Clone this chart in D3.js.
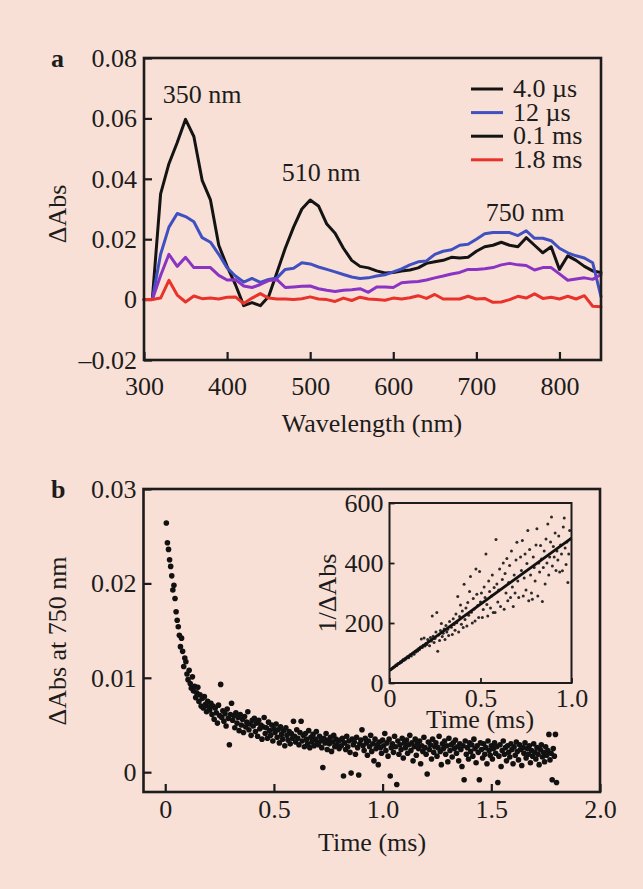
<!DOCTYPE html>
<html>
<head>
<meta charset="utf-8">
<script src="https://cdn.jsdelivr.net/npm/d3@7"></script>
<style>
  html, body { margin: 0; padding: 0; background: #f9e0d6; }
  svg { display: block; }
  text { font-family: "Liberation Serif", "Times New Roman", serif; fill: #1c1c1c; }
</style>
</head>
<body>
<svg id="chart" width="643" height="889"></svg>
<script>
// ---------- Panel a: transient absorption spectra ----------
const wavelengths = [300, 310, 320, 330, 340, 350, 360, 370, 380, 390,
  400, 410, 420, 430, 440, 450, 460, 470, 480, 490,
  500, 510, 520, 530, 540, 550, 560, 570, 580, 590,
  600, 610, 620, 630, 640, 650, 660, 670, 680, 690,
  700, 710, 720, 730, 740, 750, 760, 770, 780, 790,
  800, 810, 820, 830, 840, 850];

const spec4us = [0, 0, 0.035, 0.045, 0.052, 0.0597, 0.054, 0.0395, 0.033, 0.018,
  0.011, 0.005, -0.002, -0.001, -0.002, 0.001, 0.009, 0.017, 0.024, 0.030,
  0.033, 0.031, 0.025, 0.022, 0.017, 0.013, 0.011, 0.0105, 0.0095, 0.0088,
  0.009, 0.0095, 0.0098, 0.0105, 0.012, 0.0125, 0.013, 0.014, 0.0138, 0.014,
  0.016, 0.0175, 0.018, 0.019, 0.018, 0.0175, 0.0205, 0.018, 0.0155, 0.0175,
  0.010, 0.0145, 0.013, 0.011, 0.0095, 0.009];

const spec12us = [0, 0, 0.015, 0.024, 0.0285, 0.0275, 0.0258, 0.0205, 0.019, 0.015,
  0.0105, 0.0078, 0.0058, 0.0070, 0.0057, 0.0067, 0.0072, 0.0100, 0.0104, 0.0122,
  0.0118, 0.0108, 0.0100, 0.0092, 0.0083, 0.0075, 0.0070, 0.0072, 0.0078, 0.0082,
  0.0092, 0.0102, 0.0115, 0.0125, 0.0128, 0.0150, 0.0160, 0.0165, 0.0180, 0.0183,
  0.0200, 0.0218, 0.0222, 0.0222, 0.0222, 0.0212, 0.0228, 0.0203, 0.0203, 0.0195,
  0.0170, 0.0155, 0.0145, 0.0138, 0.0122, 0.001];

const spec01ms = [0, 0, 0.008, 0.015, 0.011, 0.014, 0.0106, 0.0106, 0.0106, 0.008,
  0.0065, 0.0066, 0.0045, 0.0040, 0.0050, 0.0063, 0.0066, 0.0040, 0.0042, 0.0044,
  0.0045, 0.0036, 0.0031, 0.0027, 0.0031, 0.0033, 0.0036, 0.0024, 0.0042, 0.0042,
  0.0040, 0.0056, 0.0058, 0.0060, 0.0065, 0.0072, 0.0078, 0.0085, 0.0090, 0.0100,
  0.0100, 0.0102, 0.0106, 0.0115, 0.0120, 0.0115, 0.0113, 0.0098, 0.0106, 0.0106,
  0.0085, 0.0064, 0.0068, 0.0072, 0.0067, 0.0083];

const spec18ms = [0, 0, 0.0005, 0.0064, 0.0015, -0.0008, 0.0012, 0.0003, 0.0005, 0.0002,
  0.0008, 0.0009, -0.0013, 0.0005, 0.0020, 0.0005, 0.0002, 0.0002, 0.0000, 0.0003,
  0.0009, 0.0002, 0.0000, -0.0006, 0.0005, -0.0003, 0.0008, 0.0002, 0.0000, -0.0002,
  0.0005, 0.0002, 0.0006, 0.0013, 0.0004, 0.0017, 0.0002, 0.0002, 0.0002, 0.0011,
  0.0002, 0.0004, -0.0009, -0.0008, 0.0000, 0.0011, 0.0005, 0.0019, 0.0004, 0.0008,
  0.0002, 0.0011, 0.0002, 0.0013, -0.0022, -0.0024];

const seriesLabels = ["4.0 \u00b5s", "12 \u00b5s", "0.1 ms", "1.8 ms"];
const peakLabels = ["350 nm", "510 nm", "750 nm"];
const specXTicks = [300, 400, 500, 600, 700, 800];
const specYTicks = [-0.02, 0, 0.02, 0.04, 0.06, 0.08];

// ---------- Panel b: decay at 750 nm, sampled every 5 µs ----------
const decayStep = 0.005; // ms between samples
const decay750 = [
  0.0264, 0.0243, 0.0236, 0.0225, 0.0218, 0.0208, 0.0193, 0.0198, 0.0184, 0.0170, 0.0161, 0.0154, 0.0145, 0.0133, 0.0142, 0.0128, 0.0112, 0.0121, 0.0117, 0.0104,
  0.0098, 0.0108, 0.0094, 0.0089, 0.0101, 0.0086, 0.0091, 0.0079, 0.0084, 0.0090, 0.0075, 0.0082, 0.0070, 0.0078, 0.0068, 0.0080, 0.0072, 0.0064, 0.0075, 0.0069,
  0.0066, 0.0073, 0.0061, 0.0070, 0.0056, 0.0068, 0.0063, 0.0052, 0.0071, 0.0060, 0.0093, 0.0058, 0.0065, 0.0054, 0.0062, 0.0049, 0.0067, 0.0057, 0.0029, 0.0061,
  0.0073, 0.0055, 0.0060, 0.0047, 0.0063, 0.0052, 0.0058, 0.0044, 0.0061, 0.0050, 0.0056, 0.0042, 0.0059, 0.0048, 0.0053, 0.0064, 0.0045, 0.0051, 0.0039, 0.0055,
  0.0049, 0.0057, 0.0043, 0.0052, 0.0038, 0.0055, 0.0046, 0.0050, 0.0035, 0.0048, 0.0058, 0.0041, 0.0047, 0.0036, 0.0053, 0.0044, 0.0039, 0.0050, 0.0033, 0.0046,
  0.0042, 0.0051, 0.0037, 0.0045, 0.0031, 0.0048, 0.0040, 0.0035, 0.0044, 0.0028, 0.0047, 0.0039, 0.0034, 0.0043, 0.0030, 0.0041, 0.0036, 0.0054, 0.0038, 0.0032,
  0.0045, 0.0036, 0.0029, 0.0042, 0.0054, 0.0033, 0.0039, 0.0027, 0.0041, 0.0035, 0.0030, 0.0044, 0.0026, 0.0037, 0.0032, 0.0040, 0.0028, 0.0035, 0.0043, 0.0031,
  0.0029, 0.0038, 0.0033, 0.0026, 0.0005, 0.0036, 0.0031, 0.0041, 0.0024, 0.0034, 0.0030, 0.0037, 0.0022, 0.0032, 0.0039, 0.0027, 0.0035, 0.0029, 0.0033, 0.0025,
  0.0034, 0.0028, 0.0036, -0.0004, 0.0031, 0.0024, 0.0038, 0.0027, 0.0033, 0.0021, -0.0001, 0.0035, 0.0029, 0.0032, 0.0019, 0.0037, 0.0026, -0.0003, 0.0030, 0.0034,
  0.0045, 0.0028, 0.0023, 0.0036, 0.0031, 0.0018, 0.0033, 0.0027, 0.0039, 0.0022, 0.0030, 0.0012, 0.0035, 0.0025, 0.0029, 0.0008, 0.0032, 0.0026, 0.0020, 0.0034,
  0.0028, 0.0041, 0.0023, 0.0031, 0.0017, 0.0035, -0.0004, 0.0026, 0.0030, 0.0021, 0.0038, 0.0027, -0.0013, 0.0033, 0.0019, 0.0029, 0.0024, 0.0036, 0.0015, 0.0031,
  0.0026, 0.0034, 0.0020, 0.0029, 0.0039, 0.0023, 0.0031, 0.0012, 0.0027, 0.0035, 0.0018, 0.0030, 0.0025, 0.0033, 0.0009, 0.0028, 0.0022, 0.0037, 0.0026, 0.0019,
  -0.0002, 0.0032, 0.0024, 0.0029, 0.0014, 0.0035, 0.0021, 0.0027, 0.0031, 0.0017, 0.0026, 0.0038, 0.0022, 0.0008, 0.0030, 0.0025, 0.0033, 0.0019, 0.0028, 0.0011,
  0.0036, 0.0023, 0.0029, 0.0016, 0.0031, 0.0025, 0.0034, 0.0020, 0.0027, 0.0012, 0.0030, 0.0024, 0.0006, 0.0028, -0.0008, 0.0033, 0.0019, 0.0026, 0.0014, 0.0031,
  0.0022, 0.0029, 0.0017, 0.0035, 0.0025, 0.0010, 0.0028, 0.0021, -0.0008, 0.0031, 0.0024, 0.0015, 0.0030, 0.0019, 0.0026, 0.0009, 0.0033, 0.0023, 0.0018, 0.0028,
  0.0014, 0.0025, 0.0031, 0.0020, 0.0027, -0.0011, 0.0017, 0.0029, 0.0006, 0.0023, 0.0033, 0.0019, 0.0026, 0.0012, 0.0028, 0.0021, 0.0016, 0.0030, 0.0024, 0.0009,
  0.0027, 0.0018, 0.0032, 0.0022, 0.0013, 0.0029, 0.0024, 0.0007, 0.0026, 0.0020, 0.0031, 0.0015, 0.0025, 0.0019, 0.0028, 0.0010, 0.0023, 0.0017, 0.0030, 0.0021,
  0.0014, 0.0026, 0.0019, 0.0008, 0.0024, 0.0029, 0.0016, 0.0021, 0.0011, 0.0027, 0.0018, 0.0023, 0.0040, 0.0013, 0.0020, -0.0008, 0.0025, 0.0017, 0.0040, -0.0011
];
const decayXTicks = [0, 0.5, 1.0, 1.5, 2.0];
const decayYTicks = [0, 0.01, 0.02, 0.03];

// ---------- Inset: second-order plot 1/ΔAbs vs time ----------
const inverseAbs = [
  [0.005, 44], [0.01, 47], [0.015, 48], [0.02, 52], [0.025, 53], [0.03, 56], [0.035, 60], [0.04, 58], [0.045, 64], [0.05, 65],
  [0.055, 66], [0.06, 71], [0.065, 69], [0.07, 74], [0.075, 78], [0.08, 76], [0.085, 82], [0.09, 80], [0.095, 86], [0.1, 88],
  [0.105, 84], [0.11, 92], [0.115, 95], [0.12, 90], [0.125, 98], [0.13, 101], [0.135, 96], [0.14, 106], [0.145, 103], [0.15, 110],
  [0.155, 107], [0.16, 115], [0.165, 112], [0.17, 120], [0.175, 147], [0.18, 118], [0.185, 126], [0.19, 150], [0.195, 123], [0.2, 132],
  [0.205, 128], [0.21, 145], [0.215, 138], [0.22, 124], [0.225, 152], [0.23, 140], [0.235, 223], [0.24, 156], [0.245, 135], [0.25, 148],
  [0.255, 170], [0.26, 235], [0.265, 106], [0.27, 160], [0.275, 142], [0.28, 175], [0.285, 198], [0.29, 155], [0.295, 166], [0.3, 180],
  [0.305, 145], [0.31, 192], [0.315, 170], [0.32, 179], [0.325, 158], [0.33, 205], [0.34, 186], [0.345, 162], [0.35, 214], [0.355, 195],
  [0.36, 176], [0.365, 230], [0.37, 201], [0.375, 288], [0.38, 170], [0.385, 222], [0.39, 260], [0.395, 196], [0.4, 240], [0.405, 185],
  [0.41, 329], [0.415, 212], [0.42, 250], [0.425, 190], [0.43, 268], [0.435, 226], [0.44, 305], [0.445, 355], [0.45, 236], [0.455, 200],
  [0.46, 282], [0.465, 247], [0.47, 207], [0.475, 380], [0.48, 296], [0.485, 258], [0.49, 218], [0.495, 372], [0.5, 270], [0.505, 300],
  [0.51, 218], [0.515, 245], [0.52, 320], [0.525, 285], [0.53, 430], [0.535, 262], [0.54, 223], [0.545, 340], [0.55, 305], [0.555, 250],
  [0.56, 290], [0.565, 360], [0.57, 235], [0.575, 318], [0.58, 235], [0.585, 478], [0.59, 330], [0.595, 270], [0.6, 310], [0.605, 380],
  [0.61, 255], [0.62, 345], [0.625, 400], [0.63, 246], [0.635, 365], [0.64, 300], [0.645, 415], [0.65, 274], [0.655, 335], [0.66, 392],
  [0.665, 285], [0.67, 440], [0.675, 320], [0.68, 255], [0.685, 360], [0.69, 300], [0.695, 410], [0.7, 469], [0.705, 340], [0.71, 285],
  [0.72, 420], [0.725, 375], [0.73, 475], [0.735, 290], [0.74, 350], [0.745, 430], [0.75, 310], [0.755, 398], [0.76, 508], [0.765, 274],
  [0.77, 445], [0.775, 360], [0.78, 300], [0.785, 279], [0.79, 420], [0.795, 385], [0.8, 340], [0.805, 460], [0.81, 514], [0.815, 290],
  [0.82, 400], [0.825, 370], [0.83, 458], [0.835, 413], [0.84, 272], [0.845, 385], [0.85, 440], [0.855, 330], [0.86, 480], [0.865, 400],
  [0.87, 530], [0.875, 360], [0.88, 420], [0.885, 470], [0.89, 553], [0.895, 390], [0.9, 455], [0.905, 420], [0.91, 500], [0.915, 375],
  [0.92, 440], [0.925, 410], [0.93, 490], [0.935, 370], [0.94, 460], [0.945, 430], [0.95, 374], [0.955, 520], [0.96, 550], [0.965, 450],
  [0.97, 395], [0.975, 470], [0.98, 335], [0.985, 430], [0.99, 508], [0.995, 480]
];
const inverseFit = [[0, 42], [1.0, 483]];
const insetXTicks = [0, 0.5, 1.0];
const insetYTicks = [0, 200, 400, 600];

// ---------- Styling ----------
const BG = "#f9e0d6";
const INK = "#1c1c1c";
const FONT = 26;
const lineColors = ["#141414", "#4050c0", "#8a34c4", "#e8322a"];
const legendColors = ["#141414", "#4050c0", "#141414", "#e8322a"];

const svg = d3.select("#chart");
svg.append("rect").attr("width", 643).attr("height", 889).attr("fill", BG);

function fmtSigned(d) {
  if (d === 0) return "0";
  const s = d3.format(".2f")(Math.abs(d));
  return d < 0 ? "\u20130" + s.slice(1) : s;
}

function styleAxis(g) {
  g.select(".domain").remove();
  g.selectAll(".tick line").attr("stroke", INK).attr("stroke-width", 2.2);
  g.selectAll(".tick text").attr("font-size", FONT).attr("fill", INK)
    .attr("font-family", "Liberation Serif, Times New Roman, serif");
}

function box(x0, y0, x1, y1, sw) {
  svg.append("rect").attr("x", x0).attr("y", y0)
    .attr("width", x1 - x0).attr("height", y1 - y0)
    .attr("fill", "none").attr("stroke", INK).attr("stroke-width", sw);
}

// ===== Panel a =====
const ax = d3.scaleLinear().domain([300, 850]).range([144, 601]);
const ay = d3.scaleLinear().domain([-0.02, 0.08]).range([360, 58]);

const gA = svg.append("g");
gA.append("g").attr("transform", "translate(144,0)")
  .call(d3.axisLeft(ay).tickValues(specYTicks).tickFormat(fmtSigned).tickSizeInner(-8).tickSizeOuter(0).tickPadding(7))
  .call(styleAxis);
gA.append("g").attr("transform", "translate(0,360)")
  .call(d3.axisBottom(ax).tickValues(specXTicks).tickFormat(d3.format("d")).tickSizeInner(-8).tickSizeOuter(0))
  .call(styleAxis)
  .call(g => g.selectAll(".tick text").attr("dy", null).attr("y", 35));

const specLine = d3.line().x((d, i) => ax(wavelengths[i])).y(d => ay(d));
const spectra = [spec4us, spec12us, spec01ms, spec18ms];
spectra.forEach((s, k) => {
  gA.append("path").datum(s).attr("d", specLine)
    .attr("fill", "none").attr("stroke", lineColors[k]).attr("stroke-width", 3)
    .attr("stroke-linejoin", "round").attr("stroke-linecap", "round");
});
box(144, 58, 601, 360, 2.6);

// peak annotations
const peakPos = [[202, 103], [321, 181], [525, 221]];
peakLabels.forEach((t, i) => {
  gA.append("text").attr("x", peakPos[i][0]).attr("y", peakPos[i][1])
    .attr("text-anchor", "middle").attr("font-size", FONT).text(t);
});

// legend
const leg = gA.append("g").attr("transform", "translate(471,89)");
seriesLabels.forEach((t, i) => {
  const yy = i * 23.6;
  leg.append("line").attr("x1", 0).attr("x2", 32).attr("y1", yy).attr("y2", yy)
    .attr("stroke", legendColors[i]).attr("stroke-width", 3);
  leg.append("text").attr("x", 42).attr("y", yy + 8).attr("font-size", FONT).text(t);
});

gA.append("text").attr("transform", "translate(66,214) rotate(-90)")
  .attr("text-anchor", "middle").attr("font-size", FONT).text("\u0394Abs");
gA.append("text").attr("x", 372).attr("y", 432).attr("text-anchor", "middle")
  .attr("font-size", FONT).text("Wavelength (nm)");
gA.append("text").attr("x", 51).attr("y", 67).attr("font-size", FONT)
  .attr("font-weight", "bold").text("a");

// ===== Panel b =====
const bx = d3.scaleLinear().domain([-0.1, 2.0]).range([143.5, 600]);
const by = d3.scaleLinear().domain([-0.0021, 0.03]).range([792, 489]);

const gB = svg.append("g");
gB.append("g").attr("transform", "translate(143.5,0)")
  .call(d3.axisLeft(by).tickValues(decayYTicks).tickFormat(d => d === 0 ? "0" : d3.format(".2f")(d)).tickSizeInner(-8).tickSizeOuter(0).tickPadding(7))
  .call(styleAxis);
gB.append("g").attr("transform", "translate(0,792)")
  .call(d3.axisBottom(bx).tickValues(decayXTicks).tickFormat(d => d === 0 ? "0" : d3.format(".1f")(d)).tickSizeInner(-8).tickSizeOuter(0))
  .call(styleAxis)
  .call(g => g.selectAll(".tick text").attr("dy", null).attr("y", 26));

gB.append("g").selectAll("circle").data(decay750).join("circle")
  .attr("cx", (d, i) => bx((i + 1) * decayStep))
  .attr("cy", d => by(d))
  .attr("r", 2.8).attr("fill", "#111");
box(143.5, 489, 600, 792, 2.6);

gB.append("text").attr("transform", "translate(66,641) rotate(-90)")
  .attr("text-anchor", "middle").attr("font-size", FONT).text("\u0394Abs at 750 nm");
gB.append("text").attr("x", 372).attr("y", 851).attr("text-anchor", "middle")
  .attr("font-size", FONT).text("Time (ms)");
gB.append("text").attr("x", 51).attr("y", 498).attr("font-size", FONT)
  .attr("font-weight", "bold").text("b");

// ===== Inset =====
const ix = d3.scaleLinear().domain([0, 1.0]).range([389.5, 571.5]);
const iy = d3.scaleLinear().domain([0, 600]).range([683, 503]);

const gI = svg.append("g");
gI.append("rect").attr("x", 389.5).attr("y", 503).attr("width", 182).attr("height", 180).attr("fill", BG);
gI.append("g").attr("transform", "translate(389.5,0)")
  .call(d3.axisLeft(iy).tickValues(insetYTicks).tickFormat(d3.format("d")).tickSizeInner(-5).tickSizeOuter(0).tickPadding(6))
  .call(styleAxis);
gI.append("g").attr("transform", "translate(0,683)")
  .call(d3.axisBottom(ix).tickValues(insetXTicks).tickFormat(d => d === 0 ? "0" : d3.format(".1f")(d)).tickSizeInner(-5).tickSizeOuter(0))
  .call(styleAxis)
  .call(g => g.selectAll(".tick text").attr("dy", null).attr("y", 24));
gI.selectAll(".tick line").attr("stroke-width", 1.8);

gI.append("g").selectAll("circle").data(inverseAbs).join("circle")
  .attr("cx", d => ix(d[0])).attr("cy", d => iy(d[1]))
  .attr("r", 1.5).attr("fill", "#2a2a2a");
gI.append("path").datum(inverseFit)
  .attr("d", d3.line().x(d => ix(d[0])).y(d => iy(d[1])))
  .attr("fill", "none").attr("stroke", "#111").attr("stroke-width", 2.8);
box(389.5, 503, 571.5, 683, 2);

gI.append("text").attr("transform", "translate(336,593) rotate(-90)")
  .attr("text-anchor", "middle").attr("font-size", FONT).text("1/\u0394Abs");
gI.append("text").attr("x", 480).attr("y", 728).attr("text-anchor", "middle")
  .attr("font-size", FONT).text("Time (ms)");
</script>
</body>
</html>
